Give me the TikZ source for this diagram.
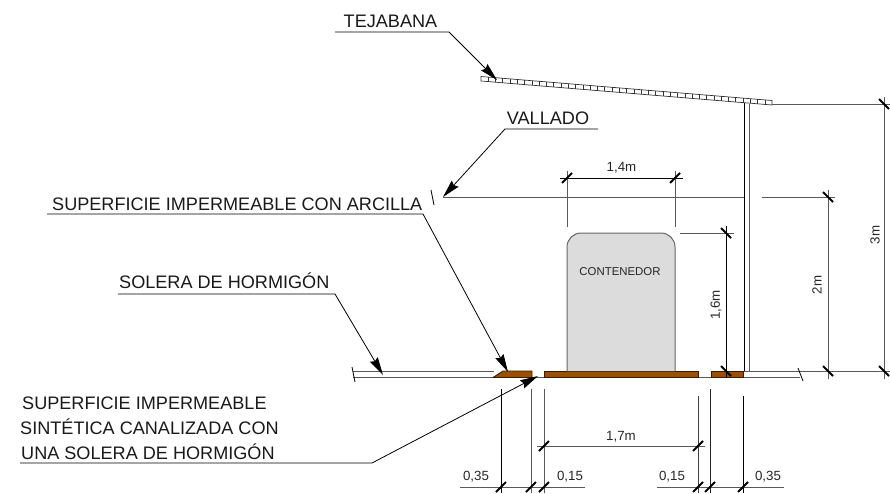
\documentclass[tikz,border=0pt]{standalone}
\usepackage{fontspec}
\setmainfont{Liberation Sans}
\usetikzlibrary{arrows.meta}
\definecolor{brownfill}{HTML}{9C4F00}
\definecolor{brownedge}{HTML}{3A1D00}
\definecolor{contfill}{HTML}{DCDCDC}
\tikzset{
  thin line/.style={line width=0.8pt,draw=black},
  grey line/.style={line width=1pt,draw=black!65},
  leader/.style={line width=0.8pt,draw=black,-{Stealth[length=18pt,width=9pt,inset=2pt]}},
  label text/.style={inner sep=0pt,font=\fontsize{18.1}{20}\selectfont,text=black!90},
  small label/.style={inner sep=0pt,font=\fontsize{13.3}{15}\selectfont,text=black!85},
  slab/.style={fill=brownfill,draw=brownedge,line width=0.9pt},
  tick mark/.style={line width=2pt,draw=black},
  cell/.style={line width=0.7pt,draw=black!80},
}
\begin{document}
\begin{tikzpicture}[x=1pt,y=-1pt]
\useasboundingbox (0,0) rectangle (890,493);
% coordinates
\coordinate (roofTL) at (481,76.5);
\coordinate (roofTR) at (772,100.5);
\coordinate (roofBR) at (772,105);
\coordinate (roofBL) at (481,81);
% ground
\draw[grey line] (353,371) -- (494,371);
\draw[grey line] (353,377.5) -- (800,377.5);
\draw[grey line] (743,371) -- (890,371);
\draw[thin line] (352,367) -- (355,382);
\draw[thin line] (798,368) -- (803,381);
% slabs
\draw[slab] (493,377.5) -- (503,371) -- (532,371) -- (532,377.5) -- cycle;
\draw[slab] (544,371) rectangle (698,377.5);
\draw[slab] (711,371) rectangle (743,377.5);
% container
\draw[fill=contfill,draw=black!60,line width=1pt,rounded corners=14pt] (567,371) -- (567,233) -- (675,233) -- (675,371);
\node[inner sep=0pt,font=\fontsize{11.4}{13}\selectfont,text=black!85] (contenedor) at (620,272) {CONTENEDOR};
% roof
\draw[cell,fill=white] (roofTL) -- (roofTR) -- (roofBR) -- (roofBL) -- cycle;
\foreach \i in {1,...,39} {
  \pgfmathsetmacro{\xa}{481+\i*7.28}
  \pgfmathsetmacro{\ya}{76.5+\i*0.6}
  \draw[cell] (\xa,\ya) -- (\xa,\ya+4.5);
}
% post
\draw[line width=0.9pt,draw=black] (744,103) -- (744,371);
\draw[grey line] (749,103.5) -- (749,371);
% vallado line and dimensions
\draw[thin line] (431,190) -- (434,205);
\draw[grey line] (443,197) -- (743.5,197);
\draw[grey line] (762,197) -- (835,197);
\draw[grey line] (772,104) -- (890,104);
% 1,4m
\draw[thin line] (560,178) -- (683,178);
\draw[grey line] (567,171) -- (567,227);
\draw[grey line] (675,171) -- (675,227);
\node[small label] (d14) at (621.5,168) {1,4m};
% 1,6m
\draw[grey line] (680,233) -- (734,233);
\draw[thin line] (726,226) -- (726,378);
\node[small label,rotate=90] (d16) at (716,305) {1,6m};
% 2m
\draw[grey line] (828,190) -- (828,379);
\node[small label,rotate=90] (d2) at (817,285) {2m};
% 3m
\draw[grey line] (884,97) -- (884,379);
\node[small label,rotate=90] (d3) at (875,235) {3m};
% bottom dims
\draw[line width=0.9pt] (501,389) -- (501,493);
\draw[grey line] (531,389) -- (531,493);
\draw[grey line] (544,389) -- (544,493);
\draw[line width=1pt,draw=black!75] (698,396) -- (698,493);
\draw[line width=0.9pt,draw=black!85] (710,389) -- (710,493);
\draw[line width=0.9pt] (743,396) -- (743,493);
\draw[grey line] (537,446) -- (705,446);
\draw[grey line] (460,487) -- (585,487);
\draw[grey line] (657,487) -- (784,487);
\node[small label] (d17) at (621,437) {1,7m};
\node[small label] (a35) at (476,477) {0,35};
\node[small label] (a15) at (570,477) {0,15};
\node[small label] (b15) at (672,477) {0,15};
\node[small label] (b35) at (768,477) {0,35};
% ticks
\foreach \x/\y in {567/178,675/178,544/446,698/446,501/487,531/487,544/487,698/487,710/487,743/487}
  \draw[tick mark] (\x-5,\y+5) -- (\x+5,\y-5);
\foreach \x/\y in {726/233,726/371,828/197,828/371,884/104,884/371}
  \draw[tick mark] (\x-5,\y-5) -- (\x+5,\y+5);
% labels and leaders
\node[label text,anchor=base] (tejabana) at (390.5,27) {TEJABANA};
\coordinate (tejaA) at (335,32); \coordinate (tejaB) at (449,32); \coordinate (tejaT) at (497,80);
\draw[leader] (tejaA) -- (tejaB) -- (tejaT);
\node[label text,anchor=base] (vallado) at (548,124) {VALLADO};
\coordinate (valA) at (598,129); \coordinate (valB) at (505,129); \coordinate (valT) at (443,197);
\draw[leader] (valA) -- (valB) -- (valT);
\node[label text,anchor=base west] (arcilla) at (52,210) {SUPERFICIE IMPERMEABLE CON ARCILLA};
\coordinate (arcA) at (47,214); \coordinate (arcB) at (423,214); \coordinate (arcT) at (508,372);
\draw[leader] (arcA) -- (arcB) -- (arcT);
\node[label text,anchor=base west] (solera) at (119,288.5) {SOLERA DE HORMIGÓN};
\coordinate (solA) at (118,294); \coordinate (solB) at (335,294); \coordinate (solT) at (383,375);
\draw[leader] (solA) -- (solB) -- (solT);
\node[label text,anchor=base west] (sin1) at (22,409) {SUPERFICIE IMPERMEABLE};
\node[label text,anchor=base west] (sin2) at (20,434.5) {SINTÉTICA CANALIZADA CON};
\node[label text,anchor=base west] (sin3) at (21,459) {UNA SOLERA DE HORMIGÓN};
\coordinate (sinA) at (20,463); \coordinate (sinB) at (372,463); \coordinate (sinT) at (538,376);
\draw[leader] (sinA) -- (sinB) -- (sinT);
\end{tikzpicture}
\end{document}
